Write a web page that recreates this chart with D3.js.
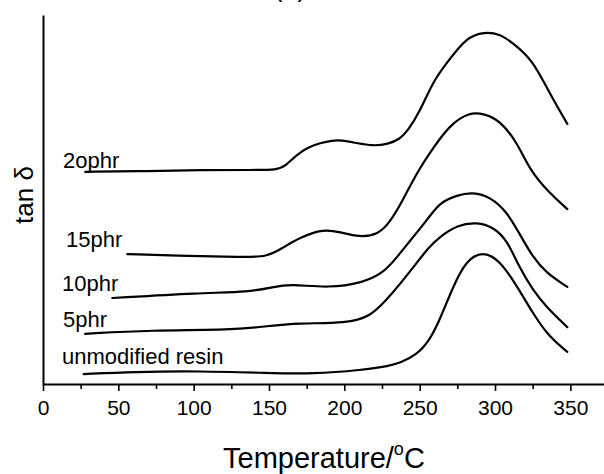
<!DOCTYPE html>
<html>
<head>
<meta charset="utf-8">
<script src="https://cdn.jsdelivr.net/npm/d3@7"></script>
<style>
  html, body { margin: 0; padding: 0; background: #fff; }
  svg { display: block; }
  text { font-family: "Liberation Sans", Arial, Helvetica, sans-serif; fill: #000; }
</style>
</head>
<body>
<svg id="chart" width="604" height="474"></svg>
<script>
// ---------- data (temperature in °C, tan δ in arbitrary offset units) ----------
const xTicks = [0, 50, 100, 150, 200, 250, 300, 350];
const xMinorTicks = [25, 75, 125, 175, 225, 275, 325];

const temp20 = [28, 70, 105, 140, 155, 161, 168, 176, 184, 192, 198, 208, 219, 229, 237, 242, 250, 259, 268, 281, 293, 303, 312, 325, 336, 348];
const tan20  = [5.75, 5.77, 5.80, 5.80, 5.80, 5.91, 6.20, 6.42, 6.53, 6.60, 6.61, 6.53, 6.45, 6.50, 6.64, 6.86, 7.37, 8.21, 8.70, 9.40, 9.54, 9.49, 9.24, 8.78, 7.89, 7.05];

const temp15 = [56, 98, 131, 149, 159, 171, 186, 197, 210, 222, 230, 239, 248, 259, 270, 283, 293, 303, 315, 323, 336, 348];
const tan15  = [3.52, 3.47, 3.44, 3.44, 3.69, 3.98, 4.20, 4.12, 3.98, 4.04, 4.36, 4.99, 5.72, 6.40, 7.02, 7.37, 7.32, 7.15, 6.53, 5.80, 5.18, 4.74];

const temp10 = [46, 104, 137, 153, 164, 190, 212, 226, 235, 244, 256, 263, 275, 285, 297, 308, 316, 325, 334, 348];
const tan10  = [2.33, 2.47, 2.49, 2.63, 2.71, 2.60, 2.74, 3.01, 3.44, 3.90, 4.50, 4.91, 5.12, 5.20, 5.07, 4.66, 4.09, 3.44, 3.01, 2.63];

const temp5 = [28, 71, 126, 149, 169, 202, 217, 228, 237, 248, 256, 263, 275, 288, 299, 308, 316, 325, 334, 348];
const tan5  = [1.36, 1.46, 1.46, 1.57, 1.65, 1.65, 1.82, 2.28, 2.71, 3.28, 3.70, 3.98, 4.31, 4.39, 4.25, 3.90, 3.17, 2.55, 2.09, 1.54];

const temp0 = [27, 60, 104, 149, 179, 212, 230, 237, 248, 256, 263, 272, 281, 292, 303, 315, 325, 336, 348];
const tan0  = [0.27, 0.33, 0.35, 0.30, 0.27, 0.38, 0.49, 0.57, 0.79, 1.15, 1.70, 2.63, 3.36, 3.60, 3.36, 2.63, 1.92, 1.27, 0.87];

const seriesNames = ["2ophr", "15phr", "10phr", "5phr", "unmodified resin"];
const seriesTemps = [temp20, temp15, temp10, temp5, temp0];
const seriesTans  = [tan20, tan15, tan10, tan5, tan0];
// label anchor (temperature, tan δ) for each series name
const labelTemps = [13.3, 15.3, 12.6, 13.3, 12.6];
const labelTans  = [5.85, 3.71, 2.52, 1.54, 0.54];

// ---------- layout ----------
const svg = d3.select("#chart");
const mLeft = 43, mRight = 605, mTop = 15, mBottom = 384;

const x = d3.scaleLinear().domain([0, 373]).range([mLeft, mRight]);
const y = d3.scaleLinear().domain([0, 10]).range([mBottom, mTop]);

// title (cut off at top, as in the reference)
svg.append("text")
  .attr("x", 290).attr("y", -4)
  .attr("text-anchor", "middle")
  .style("font-size", "27px")
  .text("(a)");

// x axis major
const gx = svg.append("g").attr("transform", `translate(0,${mBottom})`)
  .call(d3.axisBottom(x).tickValues(xTicks).tickSize(7).tickPadding(9).tickSizeOuter(0));
gx.select(".domain").attr("stroke", "#000").attr("stroke-width", 2);
gx.selectAll(".tick line").attr("stroke", "#000").attr("stroke-width", 1.6);
gx.selectAll(".tick text").style("font-size", "21px").attr("font-family", null);

// x axis minor
const gxm = svg.append("g").attr("transform", `translate(0,${mBottom})`)
  .call(d3.axisBottom(x).tickValues(xMinorTicks).tickSize(5).tickFormat(() => "").tickSizeOuter(0));
gxm.select(".domain").remove();
gxm.selectAll(".tick line").attr("stroke", "#000").attr("stroke-width", 1.6);

// y axis (no ticks)
const gy = svg.append("g").attr("transform", `translate(${mLeft},0)`)
  .call(d3.axisLeft(y).tickValues([]).tickSizeOuter(0));
gy.select(".domain").attr("stroke", "#000").attr("stroke-width", 2);

// curves
const line = d3.line()
  .x(d => x(d[0]))
  .y(d => y(d[1]))
  .curve(d3.curveBasis);

seriesNames.forEach((name, i) => {
  const pts = seriesTemps[i].map((t, j) => [t, seriesTans[i][j]]);
  svg.append("path")
    .datum(pts)
    .attr("fill", "none")
    .attr("stroke", "#000")
    .attr("stroke-width", 2.2)
    .attr("stroke-linejoin", "round")
    .attr("stroke-linecap", "round")
    .attr("d", line);
  svg.append("text")
    .attr("x", x(labelTemps[i]))
    .attr("y", y(labelTans[i]))
    .style("font-size", "22px")
    .text(name);
});

// axis titles
svg.append("text")
  .attr("transform", "translate(33,195) rotate(-90)")
  .attr("text-anchor", "middle")
  .style("font-size", "26px")
  .text("tan δ");

const xt = svg.append("text")
  .attr("x", 223).attr("y", 468)
  .style("font-size", "29px");
xt.append("tspan").text("Temperature/");
xt.append("tspan").attr("dy", -13).style("font-size", "18px").text("o");
xt.append("tspan").attr("dy", 13).text("C");
</script>
</body>
</html>
